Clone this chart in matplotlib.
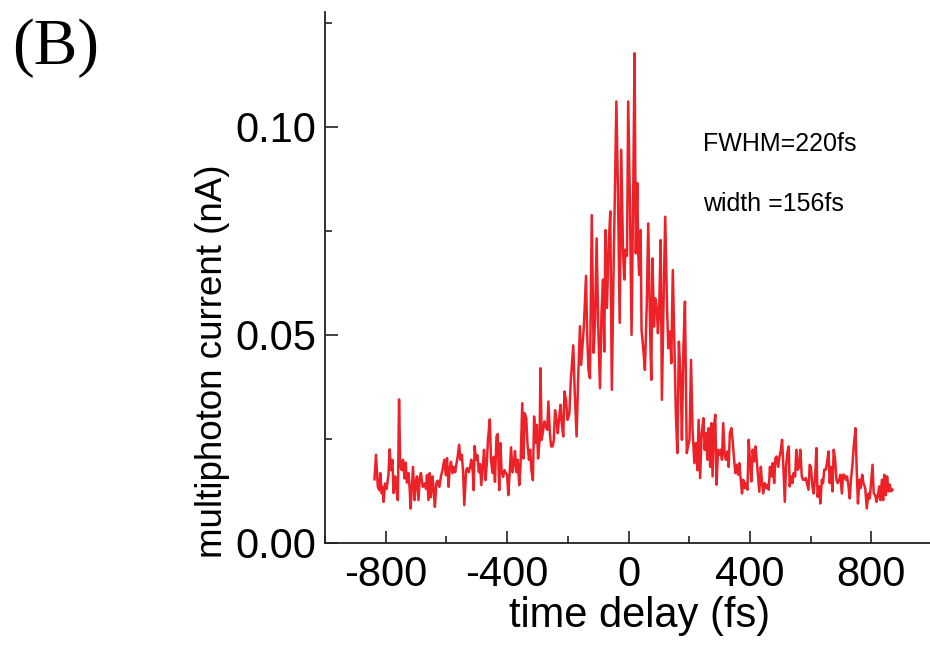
import matplotlib
matplotlib.use("Agg")
import matplotlib.pyplot as plt
from matplotlib.ticker import FixedLocator, FormatStrFormatter

# delay values (fs) and multiphoton current (nA)
delay_fs = [
    -837, -832, -826, -821, -818, -813, -810, -807, -802, -797,
    -791, -787, -782, -778, -774, -769, -765, -760, -756, -752,
    -747, -743, -738, -734, -730, -725, -721, -718, -714, -710,
    -705, -701, -697, -692, -688, -684, -678, -672, -667, -664,
    -659, -655, -651, -646, -642, -638, -633, -629, -623, -618,
    -613, -607, -602, -598, -593, -589, -585, -580, -576, -571,
    -567, -563, -558, -554, -549, -545, -541, -535,
    -531, -526, -522, -518, -513, -510, -507, -502, -498, -493,
    -489, -485, -480, -476, -471, -467, -463, -457, -453, -448,
    -444, -440, -435, -431, -426, -422, -418, -413, -409, -404,
    -400, -396, -391, -387, -382, -378, -374, -369, -365, -360,
    -356, -350, -346, -342, -337, -333, -328, -324, -320, -315,
    -311, -307, -302, -298, -293, -290, -286, -281, -277, -272,
    -268, -264, -259, -255, -250, -246, -242, -237, -233, -228,
    -224, -220, -215,
    -211, -206, -201, -195, -190, -182, -177, -171, -166, -160,
    -156, -151, -147, -140, -136, -132, -127, -121, -115, -110,
    -105, -100, -94, -89, -84, -80, -76, -71, -66, -60,
    -55, -49, -45, -40, -35, -29, -24, -18, -14, -10,
    -5,
    -1, 5, 10, 16, 20, 24, 29, 32, 35, 40,
    43, 49, 54, 60, 65, 71, 75, 79, 84, 88,
    93, 97, 101, 106, 110, 116, 121, 127, 131, 137,
    141, 146, 152, 156, 161, 166, 172, 176, 181, 186,
    192, 197, 201, 206, 211, 217,
    222, 227, 231, 236, 241, 247, 251, 255, 260, 264,
    269, 273, 277, 282, 286, 290, 295, 299, 304, 308,
    312, 317, 321, 326, 330, 334, 339, 343, 348, 352,
    356, 361, 365, 370, 374, 378, 383, 387, 392, 396,
    400, 405, 409, 414, 418, 422, 427, 431, 436, 440,
    444, 449, 453, 458, 462, 466, 471, 475, 480, 484,
    488, 493, 497, 502, 506, 510, 515, 519, 524, 528,
    531, 536, 540, 544, 549, 553, 558, 562, 566, 571,
    575, 580, 584, 588, 593, 597, 601, 606, 610, 615,
    619, 623, 628, 632, 637, 641, 645, 650, 654, 659,
    663, 667, 672, 676, 681, 685, 689, 694, 698, 703,
    707, 711, 716, 720, 725, 729, 733, 738, 742,
    748, 752, 756, 761, 765, 770, 774,
    780, 785, 791,
    795, 799, 804, 808, 813, 817, 821, 826, 830, 835,
    839, 843, 848, 852, 857, 861, 865, 870,
]

current_nA = [
    0.0153, 0.0212, 0.0135, 0.0127, 0.0168, 0.0119, 0.0135, 0.0099, 0.0143, 0.0130,
    0.0163, 0.0225, 0.0175, 0.0200, 0.0120, 0.0160, 0.0130, 0.0103, 0.0345, 0.0183,
    0.0175, 0.0200, 0.0155, 0.0193, 0.0145, 0.0168, 0.0130, 0.0083, 0.0135, 0.0183,
    0.0103, 0.0145, 0.0160, 0.0103, 0.0155, 0.0168, 0.0135, 0.0143, 0.0130, 0.0163,
    0.0103, 0.0168, 0.0110, 0.0160, 0.0130, 0.0087, 0.0143, 0.0150, 0.0135, 0.0160,
    0.0175, 0.0200, 0.0163, 0.0204, 0.0135, 0.0180, 0.0195, 0.0168, 0.0183, 0.0170,
    0.0190, 0.0207, 0.0236, 0.0200, 0.0212, 0.0170, 0.0091, 0.0175,
    0.0180, 0.0170, 0.0183, 0.0200, 0.0170, 0.0127, 0.0233, 0.0200, 0.0211, 0.0170,
    0.0190, 0.0139, 0.0183, 0.0224, 0.0151, 0.0190, 0.0248, 0.0297, 0.0200, 0.0168,
    0.0207, 0.0147, 0.0256, 0.0262, 0.0127, 0.0240, 0.0170, 0.0159, 0.0175, 0.0168,
    0.0164, 0.0115, 0.0175, 0.0230, 0.0170, 0.0190, 0.0221, 0.0170, 0.0200, 0.0139,
    0.0183, 0.0336, 0.0203, 0.0312, 0.0300, 0.0240, 0.0200, 0.0224, 0.0175, 0.0151,
    0.0304, 0.0240, 0.0284, 0.0203, 0.0248, 0.0420, 0.0248, 0.0272, 0.0292, 0.0280,
    0.0272, 0.0340, 0.0264, 0.0232, 0.0232, 0.0248, 0.0319, 0.0296, 0.0264, 0.0304,
    0.0332, 0.0288, 0.0256,
    0.0364, 0.0344, 0.0296, 0.0310, 0.0392, 0.0475, 0.0359, 0.0256, 0.0392, 0.0521,
    0.0428, 0.0480, 0.0521, 0.0642, 0.0497, 0.0416, 0.0396, 0.0788, 0.0457, 0.0537,
    0.0732, 0.0529, 0.0372, 0.0553, 0.0633, 0.0460, 0.0752, 0.0565, 0.0705, 0.0797,
    0.0368, 0.0665, 0.0833, 0.1061, 0.0857, 0.0529, 0.0945, 0.0697, 0.0633, 0.0705,
    0.0690,
    0.1061, 0.0808, 0.0500, 0.0873, 0.1177, 0.0696, 0.0865, 0.0700, 0.0644, 0.0752,
    0.0512, 0.0464, 0.0416, 0.0567, 0.0768, 0.0520, 0.0392, 0.0684, 0.0520, 0.0588,
    0.0567, 0.0504, 0.0560, 0.0728, 0.0344, 0.0600, 0.0784, 0.0567, 0.0468, 0.0508,
    0.0432, 0.0656, 0.0448, 0.0312, 0.0216, 0.0484, 0.0392, 0.0248, 0.0472, 0.0580,
    0.0216, 0.0236, 0.0248, 0.0440, 0.0272, 0.0192,
    0.0240, 0.0175, 0.0296, 0.0156, 0.0264, 0.0300, 0.0224, 0.0264, 0.0200, 0.0276,
    0.0183, 0.0288, 0.0160, 0.0284, 0.0308, 0.0140, 0.0224, 0.0212, 0.0224, 0.0200,
    0.0288, 0.0212, 0.0200, 0.0220, 0.0183, 0.0264, 0.0276, 0.0248, 0.0200, 0.0168,
    0.0188, 0.0164, 0.0192, 0.0152, 0.0119, 0.0152, 0.0132, 0.0144, 0.0128, 0.0248,
    0.0200, 0.0148, 0.0224, 0.0196, 0.0232, 0.0204, 0.0160, 0.0123, 0.0183, 0.0144,
    0.0119, 0.0144, 0.0132, 0.0140, 0.0128, 0.0183, 0.0160, 0.0192, 0.0144, 0.0204,
    0.0208, 0.0183, 0.0204, 0.0224, 0.0248, 0.0188, 0.0099, 0.0183, 0.0220, 0.0232,
    0.0136, 0.0160, 0.0144, 0.0168, 0.0160, 0.0224, 0.0176, 0.0183, 0.0224, 0.0160,
    0.0152, 0.0152, 0.0156, 0.0144, 0.0128, 0.0188, 0.0183, 0.0136, 0.0119, 0.0160,
    0.0228, 0.0111, 0.0136, 0.0095, 0.0152, 0.0144, 0.0176, 0.0176, 0.0192, 0.0220,
    0.0144, 0.0183, 0.0124, 0.0224, 0.0200, 0.0152, 0.0144, 0.0152, 0.0164, 0.0119,
    0.0164, 0.0164, 0.0152, 0.0160, 0.0136, 0.0107, 0.0152, 0.0188, 0.0232,
    0.0276, 0.0172, 0.0095, 0.0152, 0.0132, 0.0164, 0.0144,
    0.0132, 0.0083, 0.0119,
    0.0107, 0.0144, 0.0188, 0.0119, 0.0115, 0.0099, 0.0111, 0.0136, 0.0103, 0.0152,
    0.0103, 0.0164, 0.0115, 0.0160, 0.0124, 0.0140, 0.0124, 0.0128,
]

x_major = [-800, -400, 0, 400, 800]
x_minor = [-1000, -600, -200, 200, 600, 1000]
y_major = [0.00, 0.05, 0.10]
y_minor = [0.025, 0.075, 0.125]

plt.rcParams['font.family'] = ['Liberation Sans', 'DejaVu Sans']
plt.rcParams['axes.unicode_minus'] = False

fig = plt.figure(figsize=(9.3, 6.48), dpi=100)
ax = fig.add_axes([325 / 930, 1 - 543 / 648, 607 / 930, 531 / 648])

ax.plot(delay_fs, current_nA, color='#ec2228', linewidth=1.8)

ax.set_xlim(-1000, 1000)
ax.set_ylim(0, 0.1276)

ax.xaxis.set_major_locator(FixedLocator(x_major))
ax.xaxis.set_minor_locator(FixedLocator(x_minor))
ax.yaxis.set_major_locator(FixedLocator(y_major))
ax.yaxis.set_minor_locator(FixedLocator(y_minor))
ax.yaxis.set_major_formatter(FormatStrFormatter('%.2f'))

ax.spines['top'].set_visible(False)
ax.spines['right'].set_visible(False)
for s in ('left', 'bottom'):
    ax.spines[s].set_linewidth(1.3)
    ax.spines[s].set_color('#222222')

ax.tick_params(which='major', direction='in', length=9, width=1.2, color='#222222', labelsize=30)
ax.tick_params(axis='x', which='major', pad=9)
ax.tick_params(axis='y', which='major', pad=6)
ax.tick_params(which='minor', direction='in', length=5, width=1.2, color='#222222')

ax.set_xlabel('time delay (fs)', fontsize=30)
ax.xaxis.set_label_coords(0.519, -0.138)
ax.xaxis.label.set_va('center')
ax.set_ylabel('multiphoton current (nA)', fontsize=26.5)
ax.yaxis.set_label_coords(-0.186, 0.343)
ax.yaxis.label.set_va('center')

ax.text(0.623, 0.739, 'FWHM=220fs', transform=ax.transAxes, fontsize=18)
ax.text(0.623, 0.626, 'width =156fs', transform=ax.transAxes, fontsize=18)

fig.text(12 / 930, 1 - 48 / 648, '(B)', family='Liberation Serif', fontsize=47, va='center', ha='left')

fig.savefig('out.png', dpi=100)
